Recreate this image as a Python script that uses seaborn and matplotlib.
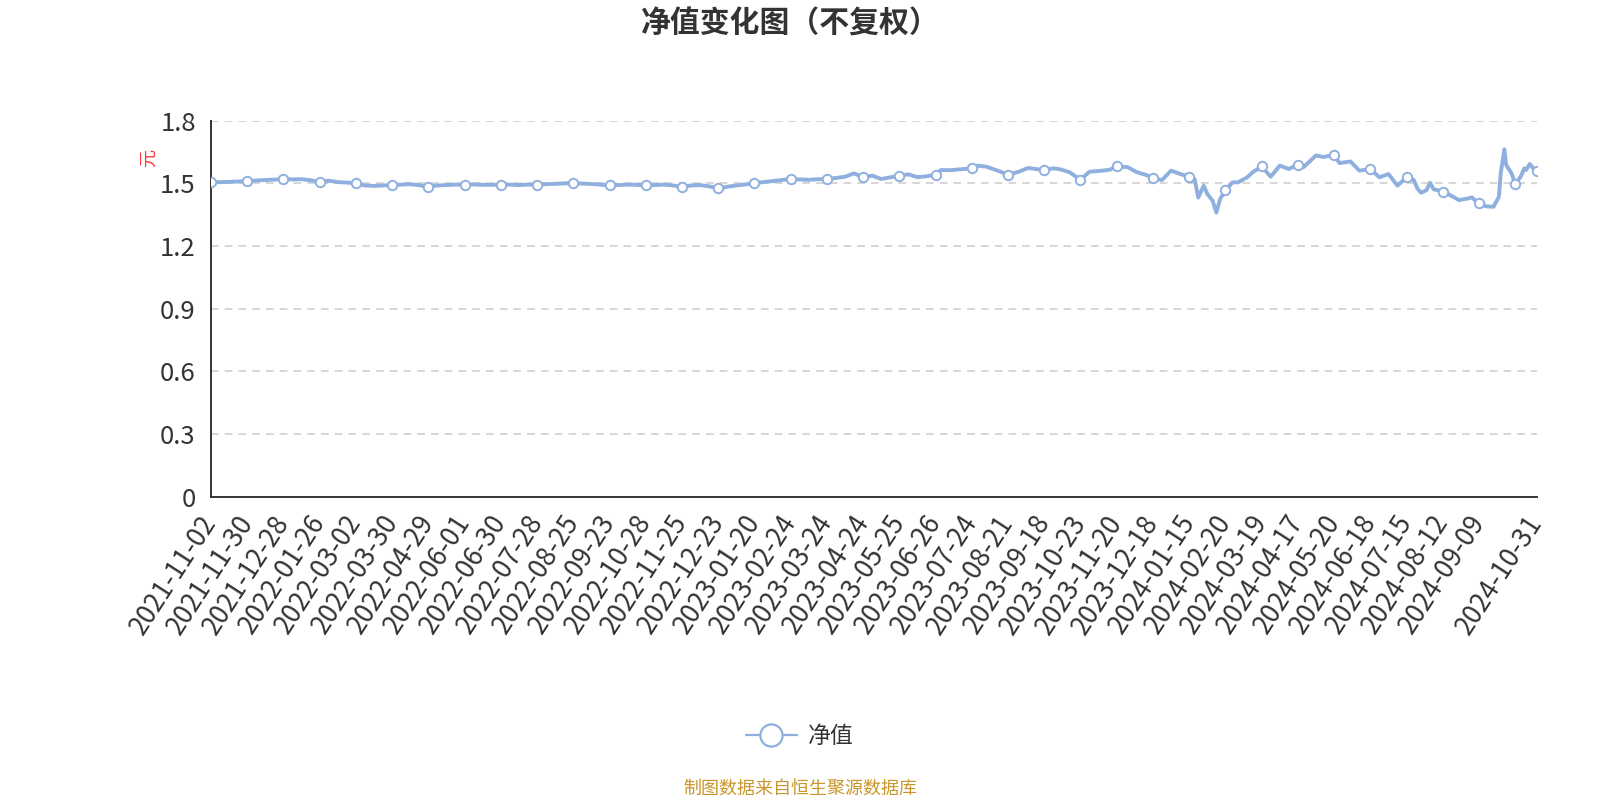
import numpy as np
import pandas as pd
import seaborn as sns
import matplotlib.pyplot as plt
from matplotlib.lines import Line2D

# trading-day index (0 = 2021-11-02) and unit NAV
day = [0, 5, 10, 15, 20, 25, 30, 35, 40, 45, 50, 55, 60, 65, 70, 75, 80, 85, 90, 95,
       100, 105, 110, 115, 120, 125, 130, 135, 140, 145, 150, 155, 160, 165, 170, 175,
       180, 185, 190, 195, 200, 205, 210, 215, 220, 225, 230, 235, 240, 245, 250, 255,
       260, 265, 270, 275, 280, 285, 290, 295, 300, 305, 310, 315, 320, 325, 330, 335,
       340, 345, 350, 355, 360, 365, 370, 375, 380, 385, 390, 395, 400, 403, 408, 413,
       420, 423, 428, 434, 440, 446, 451, 456, 460, 465, 469, 474, 480, 485, 491, 496,
       500, 506, 511, 517, 520, 525, 530, 535, 540, 543, 545, 548, 550, 553, 555, 557,
       560, 564, 567, 572, 575, 580, 585, 590, 595, 600, 603, 607, 610, 614, 620, 623,
       629, 634, 640, 645, 650, 655, 660, 664, 666, 668, 671, 673, 675, 677, 680, 684,
       689, 694, 696, 700, 704, 708, 711, 712, 714, 715, 718, 720, 723, 725, 726, 728,
       730, 732]
nav = [1.505, 1.506, 1.507, 1.509, 1.510, 1.514, 1.516, 1.518, 1.521, 1.519, 1.520, 1.515,
       1.505, 1.513, 1.506, 1.504, 1.500, 1.490, 1.488, 1.490, 1.492, 1.494, 1.496, 1.491,
       1.484, 1.490, 1.492, 1.494, 1.494, 1.495, 1.493, 1.493, 1.494, 1.494, 1.492, 1.494,
       1.494, 1.496, 1.498, 1.500, 1.502, 1.499, 1.497, 1.494, 1.490, 1.492, 1.494, 1.493,
       1.490, 1.492, 1.494, 1.490, 1.484, 1.490, 1.492, 1.486, 1.476, 1.484, 1.490, 1.495,
       1.502, 1.506, 1.511, 1.516, 1.521, 1.519, 1.517, 1.520, 1.521, 1.526, 1.532, 1.548,
       1.529, 1.537, 1.521, 1.529, 1.537, 1.543, 1.530, 1.534, 1.542, 1.564, 1.563, 1.567,
       1.572, 1.585, 1.580, 1.562, 1.542, 1.556, 1.574, 1.568, 1.564, 1.572, 1.567, 1.553,
       1.518, 1.556, 1.560, 1.565, 1.581, 1.578, 1.554, 1.538, 1.524, 1.516, 1.561, 1.545,
       1.532, 1.520, 1.432, 1.489, 1.450, 1.416, 1.360, 1.424, 1.468, 1.505, 1.505, 1.529,
       1.553, 1.581, 1.532, 1.585, 1.569, 1.590, 1.577, 1.609, 1.634, 1.626, 1.637, 1.597,
       1.605, 1.561, 1.569, 1.529, 1.545, 1.489, 1.529, 1.516, 1.476, 1.455, 1.468, 1.503,
       1.471, 1.468, 1.459, 1.444, 1.420, 1.428, 1.433, 1.404, 1.390, 1.388, 1.436, 1.548,
       1.663, 1.588, 1.548, 1.497, 1.532, 1.572, 1.564, 1.593, 1.572, 1.561]

tick_labels = ['2021-11-02', '2021-11-30', '2021-12-28', '2022-01-26', '2022-03-02',
               '2022-03-30', '2022-04-29', '2022-06-01', '2022-06-30', '2022-07-28',
               '2022-08-25', '2022-09-23', '2022-10-28', '2022-11-25', '2022-12-23',
               '2023-01-20', '2023-02-24', '2023-03-24', '2023-04-24', '2023-05-25',
               '2023-06-26', '2023-07-24', '2023-08-21', '2023-09-18', '2023-10-23',
               '2023-11-20', '2023-12-18', '2024-01-15', '2024-02-20', '2024-03-19',
               '2024-04-17', '2024-05-20', '2024-06-18', '2024-07-15', '2024-08-12',
               '2024-09-09', '', '2024-10-31']
tick_days = list(range(0, 721, 20)) + [732]
last_day = 732

df = pd.DataFrame({'day': day, 'nav': nav})
marks = df[(df.day % 20 == 0) | (df.day == last_day)]

sns.set_theme(style='white')
plt.rcParams['font.family'] = ['Noto Sans CJK SC', 'DejaVu Sans']

blue = '#8fb0df'
dark = '#333333'

fig = plt.figure(figsize=(16, 8), dpi=100)
ax = fig.add_axes([0.1319, 0.3791, 0.8287, 0.47])

sns.lineplot(data=df, x='day', y='nav', ax=ax, color=blue, linewidth=2.8, zorder=3)
sns.scatterplot(data=marks, x='day', y='nav', ax=ax, color='white', edgecolor=blue,
                linewidth=1.4, s=46, zorder=4)

ax.set_xlim(0, last_day)
ax.set_ylim(0, 1.8)
ax.set_yticks([0, 0.3, 0.6, 0.9, 1.2, 1.5, 1.8])
ax.set_yticklabels(['0', '0.3', '0.6', '0.9', '1.2', '1.5', '1.8'])
ax.set_xticks(tick_days)
ax.set_xticklabels(tick_labels, rotation=57, ha='right', va='center',
                   rotation_mode='anchor')
ax.set_xlabel('')
ax.set_ylabel('')

ax.yaxis.grid(True, color='#cccccc', linestyle=(0, (5, 4)), linewidth=1.1)
ax.xaxis.grid(False)
for s in ['top', 'right']:
    ax.spines[s].set_visible(False)
for s in ['left', 'bottom']:
    ax.spines[s].set_color(dark)
    ax.spines[s].set_linewidth(1.4)
ax.tick_params(axis='both', which='both', direction='out', length=7, width=1.4,
               color=dark, labelcolor=dark, labelsize=18.5)
ax.tick_params(axis='x', labelsize=19)
ax.tick_params(axis='y', pad=4)
ax.tick_params(axis='x', pad=8)
# the grid line at 0 sits under the axis
ax.yaxis.get_gridlines()[0].set_visible(False)

fig.text(0.093, 0.802, '元', color='#ff3333', fontsize=13, rotation=90,
         ha='center', va='center')

fig.text(0.494, 0.970, '净值变化图（不复权）', fontsize=21.5, fontweight='bold',
         color=dark, ha='center', va='center')

handle = Line2D([], [], color=blue, linewidth=1.6, marker='o', markersize=16,
                markerfacecolor='white', markeredgecolor=blue, markeredgewidth=1.6)
fig.legend([handle], ['净值'], loc='center', bbox_to_anchor=(0.5, 0.079),
           frameon=False, fontsize=16.5, handlelength=2.2, handletextpad=0.5,
           labelcolor=dark)

fig.text(0.5, 0.014, '制图数据来自恒生聚源数据库', fontsize=13, color='#c8962a',
         ha='center', va='center')

fig.savefig('out.png', dpi=100)
